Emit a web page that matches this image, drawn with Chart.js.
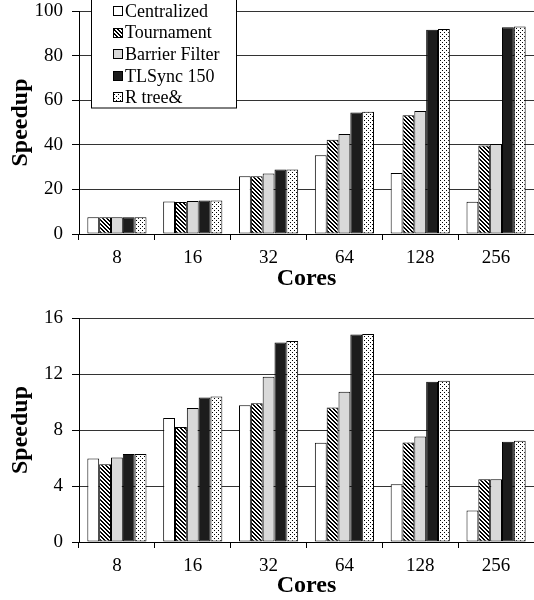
<!DOCTYPE html>
<html>
<head>
<meta charset="utf-8">
<script src="https://cdn.jsdelivr.net/npm/chart.js@4/dist/chart.umd.min.js"></script>
<style>
  html, body { margin: 0; padding: 0; background: #fff; }
  body { width: 534px; height: 600px; position: relative; overflow: hidden; }
  .box { position: absolute; left: 0; width: 534px; }
  #top-box { top: 0; height: 295px; }
  #bottom-box { top: 300px; height: 300px; }
</style>
</head>
<body>
<div class="box" id="top-box"><canvas id="top-chart" width="534" height="295"></canvas></div>
<div class="box" id="bottom-box"><canvas id="bottom-chart" width="534" height="300"></canvas></div>
<script>
const cores = ['8', '16', '32', '64', '128', '256']
const seriesNames = ['Centralized', 'Tournament', 'Barrier Filter', 'TLSync 150', 'R tree&']

// top panel
const topCentralized = [7.5, 14.6, 25.9, 35.3, 27.4, 14.5]
const topTournament  = [7.5, 14.4, 25.9, 42.3, 53.3, 39.7]
const topBarrier     = [7.5, 14.8, 27.1, 44.8, 55.2, 40.4]
const topTLSync      = [7.5, 15.0, 28.9, 54.5, 91.6, 92.7]
const topRtree       = [7.5, 15.0, 28.9, 54.8, 91.9, 93.1]

// bottom panel
const botCentralized = [5.96, 8.86, 9.77, 7.09, 4.13, 2.25]
const botTournament  = [5.56, 8.22, 9.91, 9.60, 7.11, 4.48]
const botBarrier     = [6.03, 9.58, 11.8, 10.73, 7.54, 4.48]
const botTLSync      = [6.28, 10.32, 14.25, 14.83, 11.45, 7.16]
const botRtree       = [6.28, 10.40, 14.35, 14.85, 11.52, 7.23]

const SERIF = "'Liberation Serif', 'Times New Roman', serif"

function makePattern(size, draw) {
  const c = document.createElement('canvas')
  c.width = size
  c.height = size
  const g = c.getContext('2d')
  g.fillStyle = '#fff'
  g.fillRect(0, 0, size, size)
  g.fillStyle = '#000'
  draw(g)
  return g.createPattern(c, 'repeat')
}

const hatch = makePattern(4, (g) => {
  for (let i = 0; i < 4; i++) {
    g.fillRect(i, i, 1, 1)
    g.fillRect((i + 1) % 4, i, 1, 1)
  }
})
const dots = makePattern(4, (g) => {
  g.fillRect(0, 0, 1, 1)
  g.fillRect(2, 2, 1, 1)
})

const fills = ['#ffffff', hatch, '#d9d9d9', '#1c1c1c', dots]

/* legend box drawn over the top panel */
const boxLegend = {
  id: 'boxLegend',
  afterDraw(chart) {
    const ctx = chart.ctx
    ctx.save()
    ctx.fillStyle = '#fff'
    ctx.fillRect(92, -2, 145, 110)
    ctx.strokeStyle = '#000'
    ctx.lineWidth = 1
    ctx.strokeRect(91.5, -2, 145, 110)
    ctx.font = `18px ${SERIF}`
    ctx.textBaseline = 'middle'
    chart.data.datasets.forEach((ds, i) => {
      const y = 11 + i * 21.6
      ctx.fillStyle = ds.backgroundColor
      ctx.fillRect(113, Math.round(y - 5), 10, 10)
      ctx.strokeRect(113.5, Math.round(y - 5) + 0.5, 9, 9)
      ctx.fillStyle = '#000'
      ctx.fillText(ds.label, 125, y + 1)
    })
    ctx.restore()
  }
}

function buildChart(id, values, yMax, yStep, padTop, padBottom, axisBottom, withLegend) {
  const canvas = document.getElementById(id)
  const h = canvas.height
  return new Chart(canvas, {
    type: 'bar',
    data: {
      labels: cores,
      datasets: values.map((v, i) => ({
        label: seriesNames[i],
        data: v,
        backgroundColor: fills[i],
        borderColor: '#000',
        borderWidth: 1,
        borderSkipped: false,
        categoryPercentage: 0.78,
        barPercentage: 1,
      }))
    },
    options: {
      responsive: false,
      animation: false,
      layout: { padding: { top: padTop, bottom: padBottom, left: 0, right: 0 } },
      plugins: {
        legend: { display: false },
        tooltip: { enabled: false },
      },
      scales: {
        x: {
          afterFit: (scale) => {
            scale.height = h - padBottom - axisBottom
            scale.paddingLeft = 0
            scale.paddingRight = 0
          },
          grid: { drawOnChartArea: false, drawTicks: true, tickLength: 6, color: '#000' },
          border: { display: true, color: '#000', width: 1 },
          ticks: {
            color: '#000',
            padding: 7,
            font: { family: SERIF, size: 19 },
          },
          title: {
            display: true,
            text: 'Cores',
            color: '#000',
            padding: 0,
            font: { family: SERIF, size: 24, weight: 'bold' },
          }
        },
        y: {
          min: 0,
          max: yMax,
          afterFit: (scale) => {
            scale.width = 79
            scale.paddingTop = 0
            scale.paddingBottom = 0
          },
          grid: { color: '#333', lineWidth: 1, tickLength: 7, tickColor: '#000' },
          border: { display: true, color: '#000', width: 1 },
          ticks: {
            stepSize: yStep,
            color: '#000',
            padding: 9,
            font: { family: SERIF, size: 19 },
          },
          title: {
            display: true,
            text: 'Speedup',
            color: '#000',
            padding: { top: 6, bottom: 0 },
            font: { family: SERIF, size: 24, weight: 'bold' },
          }
        }
      }
    },
    plugins: withLegend ? [boxLegend] : []
  })
}

buildChart('top-chart',
  [topCentralized, topTournament, topBarrier, topTLSync, topRtree],
  100, 20, 11, 2, 234, true)

buildChart('bottom-chart',
  [botCentralized, botTournament, botBarrier, botTLSync, botRtree],
  16, 4, 18, 0, 242, false)
</script>
</body>
</html>
